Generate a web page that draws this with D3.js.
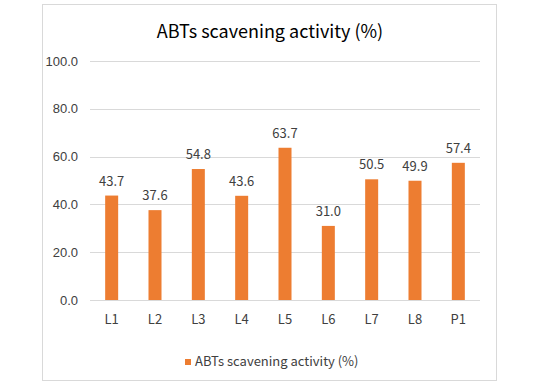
<!DOCTYPE html>
<html>
<head>
<meta charset="utf-8">
<script src="https://cdn.jsdelivr.net/npm/d3@7"></script>
<style>
  body { margin: 0; background: #fff; }
  text { font-family: "Noto Sans CJK KR", "Noto Sans", sans-serif; }
</style>
</head>
<body>
<svg id="chart" width="540" height="385"></svg>
<script>
var categories = ["L1", "L2", "L3", "L4", "L5", "L6", "L7", "L8", "P1"];
var values = [43.7, 37.6, 54.8, 43.6, 63.7, 31.0, 50.5, 49.9, 57.4];
var yTicks = [0, 20, 40, 60, 80, 100];
var title = "ABTs scavening activity (%)";
var seriesName = "ABTs scavening activity (%)";

var svg = d3.select("#chart");
var margin = { top: 61, right: 60, bottom: 85, left: 90 },
    width = 540 - margin.left - margin.right,
    height = 385 - margin.top - margin.bottom;

// chart frame
svg.append("rect")
    .attr("x", 42.5).attr("y", 4.5)
    .attr("width", 454).attr("height", 376)
    .attr("fill", "#fff").attr("stroke", "#d9d9d9");

svg.append("text")
    .attr("x", 270).attr("y", 38)
    .attr("text-anchor", "middle")
    .style("font-size", "18px")
    .style("fill", "#000")
    .text(title);

var g = svg.append("g")
    .attr("transform", "translate(" + margin.left + "," + margin.top + ")");

var x = d3.scaleBand().domain(categories).range([0, width]).paddingInner(0.7).paddingOuter(0.35);
var y = d3.scaleLinear().domain([0, 100]).range([height, 0]);

// gridlines
g.selectAll(".grid")
    .data(yTicks)
    .enter()
    .append("line")
    .attr("x1", 0).attr("x2", width)
    .attr("y1", function (d) { return Math.round(y(d)) + 0.5; })
    .attr("y2", function (d) { return Math.round(y(d)) + 0.5; })
    .attr("stroke", "#d9d9d9");

// y tick labels
g.selectAll(".ylab")
    .data(yTicks)
    .enter()
    .append("text")
    .attr("x", -12)
    .attr("y", function (d) { return y(d); })
    .attr("dy", "0.35em")
    .attr("text-anchor", "end")
    .style("font-family", "'Liberation Sans', Arial, sans-serif")
    .style("font-size", "13px")
    .style("fill", "#404040")
    .text(function (d) { return d.toFixed(1); });

// bars
g.selectAll(".bar")
    .data(values)
    .enter()
    .append("rect")
    .attr("x", function (d, i) { return x(categories[i]); })
    .attr("y", function (d) { return y(d); })
    .attr("width", x.bandwidth())
    .attr("height", function (d) { return height - y(d); })
    .attr("fill", "#ed7d31");

// data labels
g.selectAll(".val")
    .data(values)
    .enter()
    .append("text")
    .attr("x", function (d, i) { return x(categories[i]) + x.bandwidth() / 2; })
    .attr("y", function (d) { return y(d) - 10; })
    .attr("text-anchor", "middle")
    .style("font-size", "13px")
    .style("fill", "#404040")
    .text(function (d) { return d.toFixed(1); });

// category labels
g.selectAll(".xlab")
    .data(categories)
    .enter()
    .append("text")
    .attr("x", function (d) { return x(d) + x.bandwidth() / 2; })
    .attr("y", height + 19)
    .attr("dy", "0.35em")
    .attr("text-anchor", "middle")
    .style("font-size", "13px")
    .style("fill", "#404040")
    .text(function (d) { return d; });

// legend
var legend = svg.append("g").attr("transform", "translate(185,359)");
legend.append("rect").attr("width", 6).attr("height", 6).attr("fill", "#ed7d31");
legend.append("text")
    .attr("x", 10).attr("y", 6)
    .attr("dy", "0.1em")
    .style("font-size", "13px")
    .style("fill", "#404040")
    .text(seriesName);
</script>
</body>
</html>
